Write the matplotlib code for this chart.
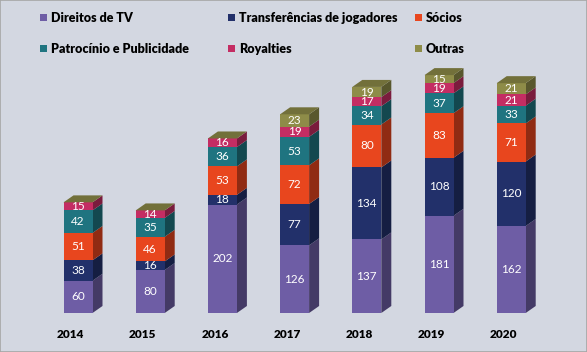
"""Stacked 3D-style bars of club revenue by source, 2014-2020."""

import numpy as np
import matplotlib.pyplot as plt
from matplotlib.patches import Polygon, Patch, Rectangle
from matplotlib.colors import to_rgb

plt.rcParams['font.family'] = ['Lato', 'DejaVu Sans']

years = ['2014', '2015', '2016', '2017', '2018', '2019', '2020']
series_names = ['Direitos de TV', 'Transferências de jogadores', 'Sócios',
                'Patrocínio e Publicidade', 'Royalties', 'Outras']
tv = [60, 80, 202, 126, 137, 181, 162]
transfers = [38, 16, 18, 77, 134, 108, 120]
socios = [51, 46, 53, 72, 80, 83, 71]
patrocinio = [42, 35, 36, 53, 34, 37, 33]
royalties = [15, 14, 16, 19, 17, 19, 21]
outras = [0, 0, 0, 23, 19, 15, 21]
colors = ['#6E5DA5', '#22306A', '#E8461E', '#1F7480', '#C42D63', '#8E8C48']

BG = '#D3D7E1'
W, H = 587, 352


def darker(c, f=0.62):
    r, g, b = to_rgb(c)
    return (r * f, g * f, b * f)


def main() -> None:
    fig = plt.figure(figsize=(W / 100, H / 100), dpi=100, facecolor=BG)
    ax = fig.add_axes([0, 0, 1, 1])
    ax.set_facecolor(BG)
    # pixel mapping: bar i centre at 78 + 72.2*i px, baseline at y=313 px
    px_x, px_y = 72.2, 0.537
    ax.set_xlim(-78 / px_x, (W - 78) / px_x)
    ax.set_ylim(-(H - 313) / px_y, 313 / px_y)
    for s in ax.spines.values():
        s.set_visible(False)
    ax.set_xticks([])
    ax.set_yticks([])

    data = np.array([tv, transfers, socios, patrocinio, royalties, outras], dtype=float)
    x = np.arange(len(years))
    w = 29 / px_x
    dx = 10 / px_x
    dy = 7 / px_y

    bottoms = np.zeros(len(years))
    for vals, col in zip(data, colors):
        ax.bar(x, vals, w, bottom=bottoms, color=col, zorder=3, linewidth=0)
        for xi, b, v in zip(x, bottoms, vals):
            if v <= 0:
                continue
            xr = xi + w / 2
            ax.add_patch(Polygon([(xr, b), (xr + dx, b + dy), (xr + dx, b + v + dy), (xr, b + v)],
                                 closed=True, facecolor=darker(col), edgecolor='none', zorder=2))
            ax.text(xi, b + v / 2, f'{int(v)}', color='white', ha='center', va='center',
                    fontsize=8.5, zorder=5)
        bottoms += vals

    # top faces
    for xi, top in zip(x, bottoms):
        xl = xi - w / 2
        ax.add_patch(Polygon([(xl, top), (xl + dx, top + dy), (xl + w + dx, top + dy), (xl + w, top)],
                             closed=True, facecolor=darker(colors[-1], 0.8), edgecolor='none', zorder=4))

    # year labels sit a little left of the bar centres (3D perspective)
    for xi, yr in zip(x, years):
        ax.text(xi - 7.5 / px_x, -22 / px_y, yr, ha='center', va='center',
                fontsize=8.5, fontweight='heavy', color='black')

    # legend: three columns of two rows each
    col_x = [40, 228, 415]
    for k, cx in enumerate(col_x):
        handles = [Patch(facecolor=colors[k], label=series_names[k]),
                   Patch(facecolor=colors[k + 3], label=series_names[k + 3])]
        fig.legend(handles=handles, loc='upper left',
                   bbox_to_anchor=(cx / W, 1 - 12 / H),
                   frameon=False, prop={'weight': 'heavy', 'size': 9},
                   handlelength=0.55, handleheight=0.55, handletextpad=0.3,
                   labelspacing=1.5, borderpad=0, borderaxespad=0)

    fig.patches.append(Rectangle((0, 0), 1, 1, transform=fig.transFigure, fill=False,
                                 edgecolor='#A6A6A6', linewidth=1.2))
    fig.savefig('out.png', dpi=100, facecolor=BG)


if __name__ == '__main__':
    main()
